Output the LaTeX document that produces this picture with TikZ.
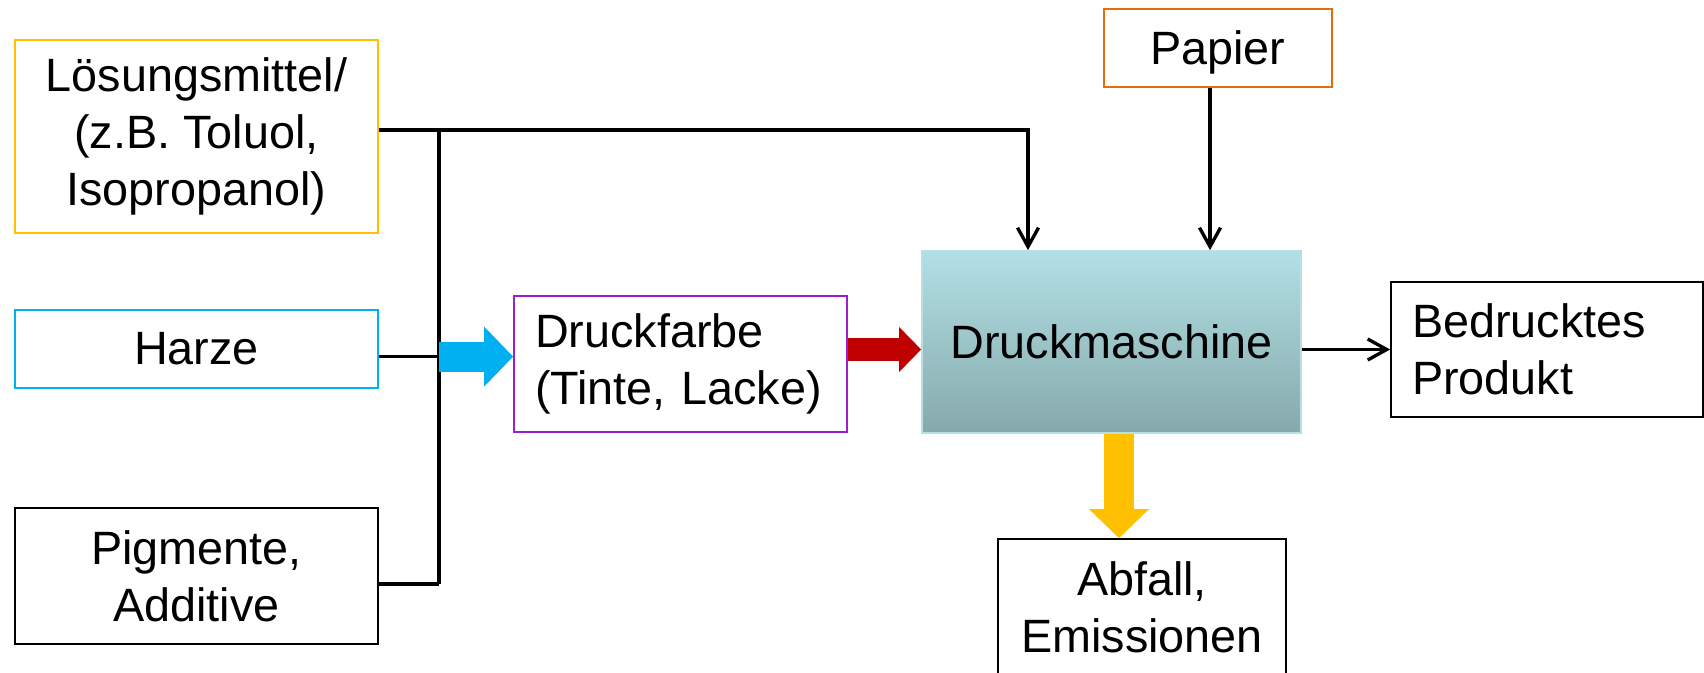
\documentclass[tikz,border=0pt]{standalone}
\usepackage{fontspec}
\setmainfont{Liberation Sans}
\usetikzlibrary{arrows.meta}

\definecolor{loesC}{HTML}{FFC000}
\definecolor{harzC}{HTML}{00B0F0}
\definecolor{farbC}{HTML}{9C1FD0}
\definecolor{papC}{HTML}{E46C0A}
\definecolor{redC}{HTML}{C00000}
\definecolor{maschTop}{HTML}{B2E0E5}
\definecolor{maschBot}{HTML}{86A9AB}
\definecolor{maschLine}{HTML}{B9DFE6}

\tikzset{
  box/.style={draw, line width=0.5pt, inner sep=0pt, align=center,
    font=\fontsize{13.3}{16.2}\selectfont\frenchspacing},
  leftbox/.style={box, align=left, inner xsep=2.1mm},
  conn/.style={line width=0.95pt},
  connarrow/.style={conn, -{Straight Barb[length=1.9mm,width=2.1mm]}},
  bigarrow/.style={line width=3mm, #1,
    -{Triangle[length=2.9mm,width=6mm,line width=0pt]}}
}

\begin{document}
\begin{tikzpicture}
				\clip (0,0) rectangle (17.04,6.72);
				% Inputs
				\node[box, draw=loesC, minimum width=3.63cm, minimum height=1.93cm] (loes) at (1.965,5.355) {Lösungsmittel/\\(z.B. Toluol,\\Isopropanol)};
				\node[box, draw=harzC, minimum width=3.63cm, minimum height=0.78cm] (harze) at (1.965,3.23) {Harze};
				\node[box, minimum width=3.63cm, minimum height=1.36cm] (pigm) at (1.965,0.96) {Pigmente,\\Additive};
				
				% Ink, paper and machine
				\node[leftbox, draw=farbC, text width=2.91cm, minimum height=1.36cm] (farbe) at (6.805,3.08) {Druckfarbe\\(Tinte, Lacke)};
				\node[box, draw=papC, text depth=0pt, minimum width=2.28cm, minimum height=0.78cm] (papier) at (12.18,6.24) {Papier};
				\node[box, draw=maschLine, top color=maschTop, bottom color=maschBot, minimum width=3.79cm, minimum height=1.82cm] (masch) at (11.115,3.30) {Druckmaschine};
				
				% Outputs
				\node[leftbox, text width=2.70cm, minimum height=1.35cm] (bedr) at (15.47,3.225) {Bedrucktes\\Produkt};
				\node[box, minimum width=2.88cm, minimum height=1.37cm] (abfall) at (11.42,0.645) {Abfall,\\Emissionen};
				
				% Collecting line
				\coordinate (busTop) at (4.39,5.42);
				\coordinate (busMid) at (4.39,3.154);
				\coordinate (busBot) at (4.39,0.88);
				\coordinate (corner) at (10.28,5.42);
				\draw[conn] (busTop) -- (busBot);
				\draw[conn] (harze.east |- busMid) -- (busMid);
				\draw[conn] (pigm.east |- busBot) -- (busBot);
				\draw[connarrow] (loes.east |- busTop) -- (corner) -- (corner |- masch.north); % solvent also to the machine
				\draw[connarrow] ([xshift=-0.8mm]papier.south) -- ([xshift=-0.8mm]papier.south |- masch.north);
				\draw[connarrow] (masch.east |- bedr.west) -- (bedr.west);
				
				% Block arrows
				\coordinate (redS) at (8.47,3.225);
				\draw[bigarrow=harzC] (busMid) -- (busMid -| farbe.west);
				\draw[bigarrow=redC, line width=2.3mm, -{Triangle[length=2.2mm,width=4.5mm,line width=0pt]}] (farbe.east |- redS) -- (masch.west |- redS);
				\draw[bigarrow=loesC] ([xshift=0.75mm]masch.south) -- ([xshift=0.75mm]masch.south |- abfall.north);
			\end{tikzpicture}
\end{document}
